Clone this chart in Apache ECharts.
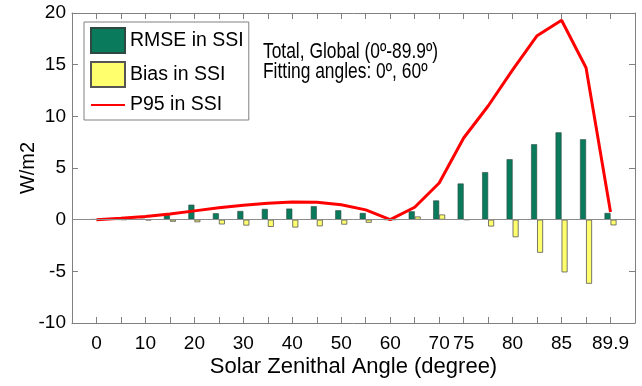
<!DOCTYPE html>
<html>
<head>
<meta charset="utf-8">
<script src="https://cdn.jsdelivr.net/npm/echarts@6/dist/echarts.min.js"></script>
<style>
  html, body { margin: 0; padding: 0; background: #fff; }
  #chart { width: 642px; height: 386px; }
</style>
</head>
<body>
<div id="chart"></div>
<script>
// zenith angles of the bins (evenly spaced on the axis)
var angles = [0, 5, 10, 15, 20, 25, 30, 35, 40, 45, 50, 55, 60, 65, 70, 75, 77.5, 80, 82.5, 85, 87.5, 89.9];
var tickAngles = [0, 10, 20, 30, 40, 50, 60, 70, 75, 80, 85, 89.9];
var rmse = [0.05, 0.02, 0.08, 0.45, 1.45, 0.62, 0.84, 1.04, 1.07, 1.3, 0.91, 0.65, 0, 0.81, 1.86, 3.5, 4.6, 5.85, 7.3, 8.45, 7.78, 0.65];
var bias = [0, 0, -0.05, -0.2, -0.25, -0.46, -0.57, -0.7, -0.76, -0.64, -0.48, -0.3, 0, 0.31, 0.5, 0, -0.66, -1.7, -3.2, -5.1, -6.2, -0.55];
var p95 = [0, 0.14, 0.3, 0.55, 0.85, 1.15, 1.4, 1.58, 1.7, 1.68, 1.45, 0.95, 0, 1.2, 3.55, 7.9, 11.0, 14.5, 17.8, 19.3, 14.7, 0.75];

var font = '"Liberation Sans", Arial, sans-serif';
var axisGray = '#808080';

function pairs(arr) {
  return arr.map(function (v, i) { return [i, v]; });
}

var chart = echarts.init(document.getElementById('chart'));

var tickStyle = { show: true, inside: true, length: 6, lineStyle: { color: axisGray } };
var lineStyle = { show: true, onZero: false, lineStyle: { color: axisGray, width: 1 } };

chart.setOption({
  backgroundColor: '#fff',
  animation: false,
  grid: { left: 72, right: 7, top: 13, bottom: 63, containLabel: false },
  legend: {
    left: 84,
    top: 22,
    orient: 'vertical',
    selectedMode: false,
    backgroundColor: '#fff',
    borderColor: axisGray,
    borderWidth: 1,
    borderRadius: 0,
    padding: [5, 5, 5, 6],
    itemWidth: 34,
    itemHeight: 25,
    itemGap: 7,
    textStyle: { fontFamily: font, fontSize: 19.5, color: '#000' },
    data: [
      { name: 'RMSE in SSI', icon: 'rect' },
      { name: 'Bias in SSI', icon: 'rect' },
      { name: 'P95 in SSI', itemStyle: { opacity: 0 } }
    ]
  },
  xAxis: [{
    type: 'value',
    position: 'bottom',
    min: -1,
    max: 22,
    interval: 1,
    name: 'Solar Zenithal Angle (degree)',
    nameLocation: 'middle',
    nameGap: 33,
    nameMoveOverlap: false,
    nameTextStyle: { fontFamily: font, fontSize: 22, color: '#000' },
    axisLine: lineStyle,
    axisTick: tickStyle,
    splitLine: { show: false },
    axisLabel: {
      margin: 11,
      fontFamily: font,
      fontSize: 19,
      color: '#000',
      formatter: function (v) {
        var a = angles[v];
        return (a !== undefined && tickAngles.indexOf(a) >= 0) ? String(a) : '';
      }
    }
  }, {
    type: 'value',
    position: 'top',
    min: -1,
    max: 22,
    interval: 1,
    axisLine: lineStyle,
    axisTick: tickStyle,
    axisLabel: { show: false },
    splitLine: { show: false }
  }],
  yAxis: [{
    type: 'value',
    position: 'left',
    min: -10,
    max: 20,
    interval: 5,
    name: 'W/m2',
    nameLocation: 'middle',
    nameGap: 34,
    nameMoveOverlap: false,
    nameTextStyle: { fontFamily: font, fontSize: 20, color: '#000' },
    axisLine: lineStyle,
    axisTick: tickStyle,
    splitLine: { show: false },
    axisLabel: { margin: 6, fontFamily: font, fontSize: 19, color: '#000' }
  }, {
    type: 'value',
    position: 'right',
    min: -10,
    max: 20,
    interval: 5,
    axisLine: lineStyle,
    axisTick: tickStyle,
    axisLabel: { show: false },
    splitLine: { show: false }
  }],
  graphic: [{
    type: 'text',
    x: 263,
    y: 51.5,
    scaleY: 1.3,
    style: { text: 'Total, Global (0º-89.9º)', fontFamily: font, fontSize: 17.4, fill: '#000', verticalAlign: 'middle' }
  }, {
    type: 'text',
    x: 263,
    y: 72,
    scaleY: 1.3,
    style: { text: 'Fitting angles: 0º, 60º', fontFamily: font, fontSize: 17.4, fill: '#000', verticalAlign: 'middle' }
  }],
  series: [{
    name: 'RMSE in SSI',
    type: 'bar',
    barWidth: 6,
    barGap: '0%',
    data: pairs(rmse),
    itemStyle: { color: '#0a7a5c', borderColor: '#2e4a40', borderWidth: 0.6 },
    markLine: {
      silent: true,
      symbol: 'none',
      label: { show: false },
      lineStyle: { color: '#8c8c8c', width: 1, type: 'solid' },
      data: [{ yAxis: 0 }]
    },
    z: 2
  }, {
    name: 'Bias in SSI',
    type: 'bar',
    barWidth: 6,
    barGap: '0%',
    data: pairs(bias),
    itemStyle: { color: '#ffff6e', borderColor: '#555', borderWidth: 0.8 },
    z: 2
  }, {
    name: 'P95 in SSI',
    type: 'line',
    data: pairs(p95),
    symbol: 'none',
    lineStyle: { color: '#ff0000', width: 3 },
    itemStyle: { color: '#ff0000' },
    z: 3
  }]
});
</script>
</body>
</html>
